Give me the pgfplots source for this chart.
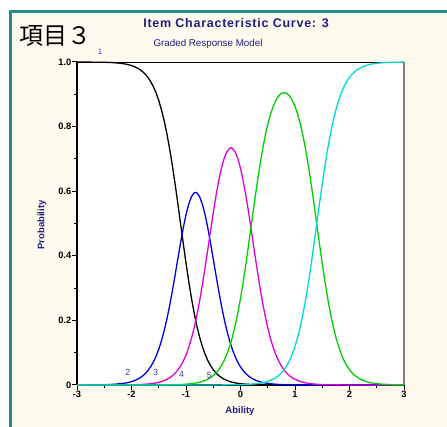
\documentclass[border=0pt]{standalone}
\usepackage{fontspec}
\setmainfont{Liberation Sans}
\newfontfamily\cjk{Noto Sans CJK JP}
\newfontfamily\spaced[LetterSpace=6]{Liberation Sans}
\usepackage{pgfplots}
\pgfplotsset{compat=1.18}
\definecolor{frame}{HTML}{248A8A}
\definecolor{cream}{HTML}{FFFAEE}
\definecolor{navy}{HTML}{1F1F80}
\definecolor{slate}{HTML}{4040A8}
\definecolor{cblue}{HTML}{0000E0}
\definecolor{cmag}{HTML}{E000E0}
\definecolor{cgreen}{HTML}{00D000}
\definecolor{ccyan}{HTML}{00D8D8}
\begin{document}
\begin{tikzpicture}
\path[use as bounding box] (0pt,0pt) rectangle (447pt,427pt);
\clip (0pt,0pt) rectangle (447pt,427pt);
\fill[white] (0pt,0pt) rectangle (447pt,427pt);
\draw[line width=2.2pt, draw=frame, fill=cream] (10.5pt,-20pt) rectangle (470pt,415.5pt);
\begin{axis}[at={(77pt,42pt)}, anchor=south west, scale only axis,
  width=327pt, height=323pt,
  xmin=-3, xmax=3, ymin=0, ymax=1,
  xtick={-3,-2,-1,0,1,2,3}, xticklabels={-3,-2,-1,0,1,2,3},
  ytick={0,0.2,0.4,0.6,0.8,1}, yticklabels={0,0.2,0.4,0.6,0.8,1.0},
  minor x tick num=1, minor y tick num=1,
  tick align=outside, tick pos=left,
  major tick length=5pt, minor tick length=3pt,
  every tick/.style={black, line width=1pt},
  axis line style={draw=none},
  axis background/.style={fill=white},
  clip=false,
  ticklabel style={font=\bfseries\fontsize{9.3}{10}\selectfont, inner sep=0.5pt},
  /pgf/number format/assume math mode=true,
  ]
\draw[gray, line width=1.2pt] (rel axis cs:1,0) -- (rel axis cs:1,1);
\draw[black, line width=0.8pt] (rel axis cs:0,1) -- (rel axis cs:1,1);
\draw[black, line width=2pt] (rel axis cs:0,0) -- (rel axis cs:0,1);
\draw[black, line width=2pt] (rel axis cs:0,0) -- (rel axis cs:1,0);
\addplot[black, line width=1.3pt] coordinates {
(-3,1) (-2.5,0.9991) (-2.45,0.9988) (-2.4,0.9985) (-2.35,0.9981) (-2.3,0.9975) (-2.25,0.9968) (-2.2,0.9959) (-2.15,0.9948) (-2.1,0.9933) (-2.05,0.9914) (-2,0.9890) (-1.95,0.9859) (-1.9,0.9820) (-1.85,0.9770) (-1.8,0.9707) (-1.75,0.9627) (-1.7,0.9526) (-1.65,0.9399) (-1.6,0.9241) (-1.55,0.9047) (-1.5,0.8808) (-1.45,0.8519) (-1.4,0.8176) (-1.35,0.7773) (-1.3,0.7311) (-1.25,0.6792) (-1.2,0.6225) (-1.15,0.5622) (-1.1,0.5) (-1.05,0.4378) (-1,0.3775) (-0.95,0.3208) (-0.9,0.2689) (-0.85,0.2227) (-0.8,0.1824) (-0.75,0.1481) (-0.7,0.1192) (-0.65,0.0953) (-0.6,0.0759) (-0.55,0.0601) (-0.5,0.0474) (-0.45,0.0373) (-0.4,0.0293) (-0.35,0.0230) (-0.3,0.0180) (-0.25,0.0141) (-0.2,0.0110) (-0.15,0.0086) (-0.1,0.0067) (-0.05,0.0052) (0,0.0041) (0.05,0.0032) (0.1,0.0025) (0.15,0.0019) (0.2,0.0015) (0.25,0.0012) (0.3,0.0009) (0.5,0.0003) (3,0)};
\addplot[cblue, line width=1.3pt] coordinates {
(-3,0) (-2.5,0.0009) (-2.4,0.0015) (-2.3,0.0025) (-2.2,0.0041) (-2.15,0.0052) (-2.1,0.0063) (-2.05,0.0080) (-2,0.0103) (-1.95,0.0132) (-1.9,0.0168) (-1.85,0.0215) (-1.8,0.0274) (-1.75,0.0348) (-1.7,0.0442) (-1.65,0.0560) (-1.6,0.0707) (-1.55,0.0886) (-1.5,0.1106) (-1.45,0.1371) (-1.4,0.1683) (-1.35,0.2047) (-1.3,0.2459) (-1.25,0.2915) (-1.2,0.3402) (-1.15,0.3904) (-1.1,0.4399) (-1.05,0.4863) (-1,0.5272) (-0.95,0.5600) (-0.9,0.5830) (-0.85,0.5949) (-0.825,0.596) (-0.8,0.5949) (-0.75,0.5830) (-0.7,0.5600) (-0.65,0.5272) (-0.6,0.4863) (-0.55,0.4399) (-0.5,0.3904) (-0.45,0.3402) (-0.4,0.2915) (-0.35,0.2459) (-0.3,0.2047) (-0.25,0.1683) (-0.2,0.1371) (-0.15,0.1106) (-0.1,0.0886) (-0.05,0.0707) (0,0.0560) (0.05,0.0442) (0.1,0.0348) (0.15,0.0274) (0.2,0.0215) (0.25,0.0168) (0.3,0.0132) (0.35,0.0103) (0.4,0.0080) (0.45,0.0063) (0.5,0.0049) (0.6,0.0030) (0.7,0.0018) (0.8,0.0011) (1,0.0004) (3,0)};
\addplot[cmag, line width=1.3pt] coordinates {
(-3,0) (-2.15,0.0003) (-1.95,0.0009) (-1.85,0.0014) (-1.75,0.0024) (-1.65,0.0039) (-1.6,0.0050) (-1.55,0.0065) (-1.5,0.0084) (-1.45,0.0107) (-1.4,0.0138) (-1.35,0.0176) (-1.3,0.0224) (-1.25,0.0286) (-1.2,0.0364) (-1.15,0.0462) (-1.1,0.0586) (-1.05,0.0740) (-1,0.0928) (-0.95,0.1160) (-0.9,0.1440) (-0.85,0.1772) (-0.8,0.2160) (-0.75,0.2603) (-0.7,0.3098) (-0.65,0.3634) (-0.6,0.4198) (-0.55,0.4770) (-0.5,0.5329) (-0.45,0.5852) (-0.4,0.6318) (-0.35,0.6710) (-0.3,0.7014) (-0.25,0.7223) (-0.2,0.7327) (-0.175,0.734) (-0.15,0.7327) (-0.1,0.7223) (-0.05,0.7014) (0,0.6710) (0.05,0.6318) (0.1,0.5852) (0.15,0.5329) (0.2,0.4770) (0.25,0.4198) (0.3,0.3634) (0.35,0.3098) (0.4,0.2603) (0.45,0.2160) (0.5,0.1772) (0.55,0.1440) (0.6,0.1160) (0.65,0.0928) (0.7,0.0740) (0.75,0.0586) (0.8,0.0462) (0.85,0.0364) (0.9,0.0286) (0.95,0.0224) (1,0.0176) (1.05,0.0138) (1.1,0.0107) (1.15,0.0084) (1.2,0.0065) (1.25,0.0050) (1.3,0.0039) (1.4,0.0024) (1.5,0.0014) (1.6,0.0009) (1.8,0.0003) (3,0)};
\addplot[cgreen, line width=1.3pt] coordinates {
(-3,0) (-1.4,0.0003) (-1.2,0.0009) (-1.1,0.0015) (-1,0.0025) (-0.9,0.0041) (-0.8,0.0067) (-0.75,0.0086) (-0.7,0.0110) (-0.65,0.0141) (-0.6,0.0180) (-0.55,0.0229) (-0.5,0.0292) (-0.45,0.0372) (-0.4,0.0473) (-0.35,0.0599) (-0.3,0.0757) (-0.25,0.0950) (-0.2,0.1189) (-0.15,0.1477) (-0.1,0.1818) (-0.05,0.2220) (0,0.2680) (0.05,0.3196) (0.1,0.3760) (0.15,0.4359) (0.2,0.4975) (0.25,0.5590) (0.3,0.6184) (0.35,0.6740) (0.4,0.7244) (0.45,0.7687) (0.5,0.8066) (0.55,0.8378) (0.6,0.8628) (0.65,0.8817) (0.7,0.8948) (0.75,0.9026) (0.8,0.9052) (0.85,0.9026) (0.9,0.8948) (0.95,0.8817) (1,0.8628) (1.05,0.8378) (1.1,0.8066) (1.15,0.7687) (1.2,0.7244) (1.25,0.6740) (1.3,0.6184) (1.35,0.5590) (1.4,0.4975) (1.45,0.4359) (1.5,0.3760) (1.55,0.3196) (1.6,0.2680) (1.65,0.2220) (1.7,0.1818) (1.75,0.1477) (1.8,0.1189) (1.85,0.0950) (1.9,0.0757) (1.95,0.0599) (2,0.0473) (2.05,0.0372) (2.1,0.0292) (2.15,0.0229) (2.2,0.0180) (2.25,0.0141) (2.3,0.0110) (2.35,0.0086) (2.4,0.0067) (2.5,0.0041) (2.6,0.0025) (2.7,0.0015) (2.8,0.0009) (3,0.0003)};
\addplot[ccyan, line width=1.3pt] coordinates {
(-3,0) (-0.5,0) (0,0.0009) (0.05,0.0012) (0.1,0.0015) (0.15,0.0019) (0.2,0.0025) (0.25,0.0032) (0.3,0.0041) (0.35,0.0052) (0.4,0.0067) (0.45,0.0086) (0.5,0.0110) (0.55,0.0141) (0.6,0.0180) (0.65,0.0230) (0.7,0.0293) (0.75,0.0373) (0.8,0.0474) (0.85,0.0601) (0.9,0.0759) (0.95,0.0953) (1,0.1192) (1.05,0.1481) (1.1,0.1824) (1.15,0.2227) (1.2,0.2689) (1.25,0.3208) (1.3,0.3775) (1.35,0.4378) (1.4,0.5) (1.45,0.5622) (1.5,0.6225) (1.55,0.6792) (1.6,0.7311) (1.65,0.7773) (1.7,0.8176) (1.75,0.8519) (1.8,0.8808) (1.85,0.9047) (1.9,0.9241) (1.95,0.9399) (2,0.9526) (2.05,0.9627) (2.1,0.9707) (2.15,0.9770) (2.2,0.9820) (2.25,0.9859) (2.3,0.9890) (2.35,0.9914) (2.4,0.9933) (2.45,0.9948) (2.5,0.9959) (2.55,0.9968) (2.6,0.9975) (2.65,0.9981) (2.7,0.9985) (2.75,0.9988) (2.8,0.9991) (3,0.9997)};
\end{axis}
\node[anchor=west, inner sep=0pt, font=\cjk\fontsize{24}{26}\selectfont] at (19pt,391pt) {項目３};
\node[text=navy, font=\spaced\bfseries\fontsize{12.5}{14}\selectfont] at (236pt,404pt) {Item Characteristic Curve: 3};
\node[text=navy, font=\fontsize{9.8}{11}\selectfont] at (208pt,383pt) {Graded Response Model};
\node[text=slate, font=\fontsize{8}{9}\selectfont] at (100pt,375pt) {1};
\node[text=slate, font=\fontsize{9}{10}\selectfont] at (128pt,55pt) {2};
\node[text=slate, font=\fontsize{9}{10}\selectfont] at (155.7pt,55pt) {3};
\node[text=slate, font=\fontsize{9}{10}\selectfont] at (181.7pt,53pt) {4};
\node[text=slate, font=\fontsize{9}{10}\selectfont] at (209.3pt,52pt) {5};
\node[text=navy, rotate=90, font=\bfseries\fontsize{9.5}{10}\selectfont] at (42pt,202pt) {Probability};
\node[text=navy, font=\bfseries\fontsize{9.5}{10}\selectfont] at (240pt,16pt) {Ability};
\end{tikzpicture}
\end{document}
